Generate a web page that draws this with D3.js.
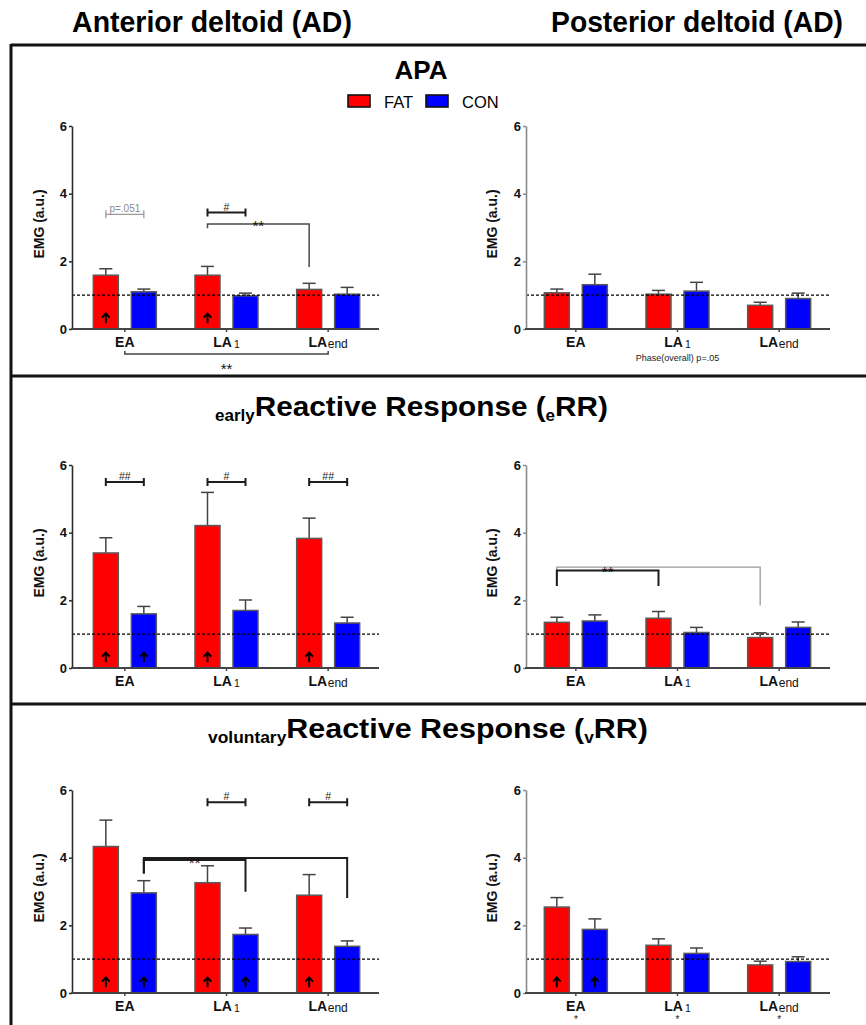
<!DOCTYPE html>
<html>
<head>
<meta charset="utf-8">
<script src="https://cdn.jsdelivr.net/npm/d3@7"></script>
<style>
  body { margin: 0; background: #fff; }
  svg { display: block; font-family: "Liberation Sans", Arial, Helvetica, sans-serif; }
</style>
</head>
<body>
<svg id="chart" width="866" height="1025"></svg>
<script>
// ---- categories and groups ----
const phases = ["EA", "LA1", "LAend"];
const groups = ["FAT", "CON"];
const groupColors = ["#ff0000", "#0000ff"];
const yTicks = [0, 2, 4, 6];
const referenceLevel = 1;

// ---- APA: anterior / posterior deltoid (mean, SEM) ----
const apaAD_FAT = [1.59, 1.59, 1.17];
const apaAD_FAT_sem = [0.19, 0.26, 0.18];
const apaAD_CON = [1.10, 0.98, 1.03];
const apaAD_CON_sem = [0.08, 0.08, 0.20];
const apaPD_FAT = [1.07, 1.03, 0.70];
const apaPD_FAT_sem = [0.11, 0.11, 0.09];
const apaPD_CON = [1.31, 1.12, 0.90];
const apaPD_CON_sem = [0.31, 0.26, 0.16];

// ---- early reactive response ----
const errAD_FAT = [3.40, 4.21, 3.83];
const errAD_FAT_sem = [0.45, 0.98, 0.60];
const errAD_CON = [1.60, 1.70, 1.33];
const errAD_CON_sem = [0.22, 0.31, 0.17];
const errPD_FAT = [1.35, 1.47, 0.90];
const errPD_FAT_sem = [0.15, 0.20, 0.14];
const errPD_CON = [1.39, 1.05, 1.20];
const errPD_CON_sem = [0.18, 0.15, 0.16];

// ---- voluntary reactive response ----
const vrrAD_FAT = [4.33, 3.26, 2.89];
const vrrAD_FAT_sem = [0.78, 0.50, 0.61];
const vrrAD_CON = [2.96, 1.73, 1.38];
const vrrAD_CON_sem = [0.36, 0.19, 0.16];
const vrrPD_FAT = [2.54, 1.41, 0.83];
const vrrPD_FAT_sem = [0.28, 0.19, 0.11];
const vrrPD_CON = [1.88, 1.17, 0.93];
const vrrPD_CON_sem = [0.31, 0.16, 0.14];

// ---- increase-over-baseline arrows, per phase [FAT, CON] ----
const apaAD_arrows = [[1, 0], [1, 0], [0, 0]];
const apaPD_arrows = [[0, 0], [0, 0], [0, 0]];
const errAD_arrows = [[1, 1], [1, 0], [1, 0]];
const errPD_arrows = [[0, 0], [0, 0], [0, 0]];
const vrrAD_arrows = [[1, 1], [1, 1], [1, 0]];
const vrrPD_arrows = [[1, 1], [0, 0], [0, 0]];

// ---- significance brackets (heights in EMG units) ----
const apaAD_brackets = [
  { from: ["EA", "FAT"], to: ["EA", "CON"], at: 3.39, cap: true, label: "p=.051", tone: "light" },
  { from: ["LA1", "FAT"], to: ["LA1", "CON"], at: 3.44, cap: true, label: "#", tone: "dark" },
  { from: ["LA1", "FAT"], to: ["LAend", "FAT"], at: 3.10, legFrom: 2.98, legTo: 1.83, label: "**", tone: "mid", labelAt: 3.12 }
];
const apaPD_brackets = [];
const errAD_brackets = [
  { from: ["EA", "FAT"], to: ["EA", "CON"], at: 5.50, cap: true, label: "##", tone: "dark" },
  { from: ["LA1", "FAT"], to: ["LA1", "CON"], at: 5.50, cap: true, label: "#", tone: "dark" },
  { from: ["LAend", "FAT"], to: ["LAend", "CON"], at: 5.50, cap: true, label: "##", tone: "dark" }
];
const errPD_brackets = [
  { from: ["EA", "FAT"], to: ["LAend", "FAT"], at: 2.98, legFrom: 2.42, legTo: 1.85, tone: "light" },
  { from: ["EA", "FAT"], to: ["LA1", "FAT"], at: 2.88, legFrom: 2.42, legTo: 2.42, label: "**", tone: "dark", labelAt: 2.93 }
];
const vrrAD_brackets = [
  { from: ["LA1", "FAT"], to: ["LA1", "CON"], at: 5.64, cap: true, label: "#", tone: "dark" },
  { from: ["LAend", "FAT"], to: ["LAend", "CON"], at: 5.64, cap: true, label: "#", tone: "dark" },
  { from: ["EA", "CON"], to: ["LAend", "CON"], at: 3.99, legFrom: 3.53, legTo: 2.81, tone: "dark" },
  { from: ["EA", "CON"], to: ["LA1", "CON"], at: 3.93, legFrom: 3.53, legTo: 2.99, label: "**", tone: "dark", labelAt: 3.92 }
];
const vrrPD_brackets = [];

// brackets drawn beneath the category axis
const apaAD_axisBrackets = [{ from: "EA", to: "LAend", label: "**" }];
// notes under the category labels
const apaPD_notes = [{ phase: "LA1", text: "Phase(overall) p=.05" }];
const vrrPD_notes = [{ phase: "EA", text: "*" }, { phase: "LA1", text: "*" }, { phase: "LAend", text: "*" }];

// ---- layout ----
const rows = [
  { y0: 329, y6: 126 },
  { y0: 668, y6: 465 },
  { y0: 993, y6: 790 }
];
const cols = [
  { axisX: 72, range: [74, 379], yAxisColor: "#2a2a2a", labelX: 39 },
  { axisX: 526, range: [525, 830], yAxisColor: "#8a8a8a", labelX: 492 }
];
const panels = [
  { row: 0, col: 0, fat: apaAD_FAT, fatSem: apaAD_FAT_sem, con: apaAD_CON, conSem: apaAD_CON_sem, arrows: apaAD_arrows, brackets: apaAD_brackets, axisBrackets: apaAD_axisBrackets, notes: [] },
  { row: 0, col: 1, fat: apaPD_FAT, fatSem: apaPD_FAT_sem, con: apaPD_CON, conSem: apaPD_CON_sem, arrows: apaPD_arrows, brackets: apaPD_brackets, axisBrackets: [], notes: apaPD_notes, noteSize: 9, noteDy: 32 },
  { row: 1, col: 0, fat: errAD_FAT, fatSem: errAD_FAT_sem, con: errAD_CON, conSem: errAD_CON_sem, arrows: errAD_arrows, brackets: errAD_brackets, axisBrackets: [], notes: [] },
  { row: 1, col: 1, fat: errPD_FAT, fatSem: errPD_FAT_sem, con: errPD_CON, conSem: errPD_CON_sem, arrows: errPD_arrows, brackets: errPD_brackets, axisBrackets: [], notes: [] },
  { row: 2, col: 0, fat: vrrAD_FAT, fatSem: vrrAD_FAT_sem, con: vrrAD_CON, conSem: vrrAD_CON_sem, arrows: vrrAD_arrows, brackets: vrrAD_brackets, axisBrackets: [], notes: [] },
  { row: 2, col: 1, fat: vrrPD_FAT, fatSem: vrrPD_FAT_sem, con: vrrPD_CON, conSem: vrrPD_CON_sem, arrows: vrrPD_arrows, brackets: vrrPD_brackets, axisBrackets: [], notes: vrrPD_notes, noteSize: 10, noteDy: 30 }
];

const tones = {
  light: { stroke: "#9a9a9a", width: 1.3, text: "#8a8a8a" },
  mid:   { stroke: "#4a4a4a", width: 1.5, text: "#333" },
  dark:  { stroke: "#1c1c1c", width: 2,   text: "#222" }
};

const svg = d3.select("#chart");

// squeeze a text element horizontally to a given width around its centre
function fitWidth(textSel, cx, baseline, width) {
  const bb = textSel.node().getBBox();
  const sx = width / bb.width;
  textSel.attr("text-anchor", "middle")
    .attr("transform", `translate(${cx},${baseline}) scale(${sx},1)`);
}

// ---- outer frame ----
const frame = svg.append("g").attr("stroke", "#111").attr("stroke-width", 3);
frame.append("line").attr("x1", 11).attr("x2", 866).attr("y1", 45).attr("y2", 45);
frame.append("line").attr("x1", 11).attr("x2", 11).attr("y1", 44).attr("y2", 1025);
frame.append("line").attr("x1", 10).attr("x2", 866).attr("y1", 376).attr("y2", 376);
frame.append("line").attr("x1", 10).attr("x2", 866).attr("y1", 704).attr("y2", 704);

// ---- column headings ----
const colTitles = [
  { text: "Anterior deltoid (AD)", cx: 212, width: 280 },
  { text: "Posterior deltoid (AD)", cx: 697, width: 292 }
];
colTitles.forEach(t => {
  const el = svg.append("text").attr("font-size", 29).attr("font-weight", "bold")
    .attr("fill", "#000").text(t.text);
  fitWidth(el, t.cx, 32, t.width);
});

// ---- section headings ----
svg.append("text").attr("x", 421).attr("y", 79).attr("text-anchor", "middle")
  .attr("font-size", 26).attr("font-weight", "bold").text("APA");

function sectionTitle(prefix, sub, cx, baseline, width) {
  const el = svg.append("text").attr("font-weight", "bold").attr("fill", "#000");
  el.append("tspan").attr("font-size", 16).attr("dy", 5).text(prefix);
  el.append("tspan").attr("font-size", 28).attr("dy", -5).text("Reactive Response (");
  el.append("tspan").attr("font-size", 16).attr("dy", 5).text(sub);
  el.append("tspan").attr("font-size", 28).attr("dy", -5).text("RR)");
  fitWidth(el, cx, baseline, width);
}
sectionTitle("early", "e", 411.5, 416, 393);
sectionTitle("voluntary", "v", 428, 738, 440);

// ---- legend ----
const legend = svg.append("g");
const legendItems = [
  { x: 348, tx: 384 },
  { x: 426, tx: 462 }
];
groups.forEach((gname, i) => {
  legend.append("rect").attr("x", legendItems[i].x).attr("y", 95).attr("width", 22).attr("height", 12)
    .attr("fill", groupColors[i]).attr("stroke", "#111").attr("stroke-width", 1.6);
  legend.append("text").attr("x", legendItems[i].tx).attr("y", 107.5).attr("font-size", 16.5)
    .text(gname);
});

// ---- panels ----
const inner = d3.scaleBand().domain(groups).range([-31.5, 31.5]).paddingInner(0.342);

panels.forEach(p => {
  const row = rows[p.row], col = cols[p.col];
  const g = svg.append("g");
  const x = d3.scaleBand().domain(phases).range(col.range);
  const y = d3.scaleLinear().domain([0, 6]).range([row.y0, row.y6]);
  const cx = ph => x(ph) + x.bandwidth() / 2;
  const barCx = (ph, grp) => cx(ph) + inner(grp) + inner.bandwidth() / 2;

  const rowsData = [];
  phases.forEach((ph, i) => {
    rowsData.push({ phase: ph, group: "FAT", v: p.fat[i], sem: p.fatSem[i], arrow: p.arrows[i][0], color: groupColors[0] });
    rowsData.push({ phase: ph, group: "CON", v: p.con[i], sem: p.conSem[i], arrow: p.arrows[i][1], color: groupColors[1] });
  });

  // error bars (upper half only)
  const eb = g.append("g").attr("stroke", "#444").attr("stroke-width", 1.5);
  rowsData.forEach(d => {
    const xc = barCx(d.phase, d.group);
    eb.append("line").attr("x1", xc).attr("x2", xc).attr("y1", y(d.v)).attr("y2", y(d.v + d.sem));
    eb.append("line").attr("x1", xc - 6.5).attr("x2", xc + 6.5).attr("y1", y(d.v + d.sem)).attr("y2", y(d.v + d.sem));
  });

  // bars
  g.append("g").selectAll("rect").data(rowsData).join("rect")
    .attr("x", d => cx(d.phase) + inner(d.group))
    .attr("width", inner.bandwidth())
    .attr("y", d => y(d.v))
    .attr("height", d => y(0) - y(d.v))
    .attr("fill", d => d.color)
    .attr("stroke", "#5a5a5a").attr("stroke-width", 1.5);

  // arrows marking increase from baseline
  g.append("g").selectAll("path").data(rowsData.filter(d => d.arrow)).join("path")
    .attr("transform", d => `translate(${barCx(d.phase, d.group)},${y(0.32)})`)
    .attr("d", "M0,5V-4.5M-3.8,-0.6L0,-4.6L3.8,-0.6")
    .attr("fill", "none").attr("stroke", "#000").attr("stroke-width", 2);

  // reference level
  g.append("line").attr("x1", col.axisX).attr("x2", col.range[1])
    .attr("y1", y(referenceLevel)).attr("y2", y(referenceLevel))
    .attr("stroke", "#000").attr("stroke-width", 1.2).attr("stroke-dasharray", "3,2");

  // y axis
  const ya = g.append("g").attr("transform", `translate(${col.axisX},0)`)
    .call(d3.axisLeft(y).tickValues(yTicks).tickSize(3).tickPadding(2).tickSizeOuter(0).tickFormat(d3.format("d")));
  ya.select(".domain").attr("stroke", col.yAxisColor).attr("stroke-width", 1.6);
  ya.selectAll(".tick line").attr("stroke", col.yAxisColor).attr("stroke-width", 1.5);
  ya.selectAll(".tick text").attr("font-size", 13).attr("font-weight", "bold").attr("fill", "#111")
    .attr("font-family", "Liberation Sans, Arial, sans-serif");

  // x axis
  const xa = g.append("g").attr("transform", `translate(0,${row.y0})`)
    .call(d3.axisBottom(x).tickSize(3).tickSizeOuter(0).tickFormat(""));
  xa.select(".domain").remove();
  xa.selectAll(".tick line").attr("stroke", "#444").attr("stroke-width", 1.5);
  g.append("line").attr("x1", col.axisX - 1).attr("x2", col.range[1]).attr("y1", row.y0).attr("y2", row.y0)
    .attr("stroke", "#444").attr("stroke-width", 1.8);

  // category labels: "LA" with a small regular-weight suffix
  phases.forEach(ph => {
    const t = g.append("text").attr("x", cx(ph)).attr("y", row.y0 + 17.5).attr("text-anchor", "middle")
      .attr("fill", "#111");
    t.append("tspan").attr("font-size", 14).attr("font-weight", "bold").text(ph.slice(0, 2));
    if (ph.length > 2) {
      t.append("tspan").attr("font-size", ph === "LA1" ? 10.5 : 12).attr("dx", ph === "LA1" ? 2 : 0.5)
        .attr("dy", 1).text(ph.slice(2));
    }
  });

  // axis title
  g.append("text")
    .attr("transform", `translate(${col.labelX + 5},${(row.y0 + row.y6) / 2 - 3.5}) rotate(-90)`)
    .attr("text-anchor", "middle").attr("font-size", 14).attr("font-weight", "bold").attr("fill", "#111")
    .text("EMG (a.u.)");

  // significance brackets
  p.brackets.forEach(b => {
    const tone = tones[b.tone];
    const xa1 = barCx(b.from[0], b.from[1]);
    const xb1 = barCx(b.to[0], b.to[1]);
    const yy = y(b.at);
    const bg = g.append("g").attr("stroke", tone.stroke).attr("stroke-width", tone.width).attr("fill", "none");
    if (b.cap) {
      bg.append("path").attr("d", `M${xa1},${yy - 4}V${yy + 4}M${xa1},${yy}H${xb1}M${xb1},${yy - 4}V${yy + 4}`);
      g.append("text").attr("x", (xa1 + xb1) / 2).attr("y", yy - 2).attr("text-anchor", "middle")
        .attr("font-size", b.label === "p=.051" ? 10 : 10.5).attr("fill", tone.text).text(b.label);
    } else {
      bg.append("path").attr("d", `M${xa1},${y(b.legFrom)}V${yy}H${xb1}V${y(b.legTo)}`);
      if (b.label) {
        g.append("text").attr("x", (xa1 + xb1) / 2).attr("y", y(b.labelAt) + 8).attr("text-anchor", "middle")
          .attr("font-size", 15).attr("fill", "#111").text(b.label);
      }
    }
  });

  // brackets below the category axis
  p.axisBrackets.forEach(b => {
    const xa1 = cx(b.from), xb1 = cx(b.to), yy = row.y0 + 25;
    g.append("path").attr("d", `M${xa1},${yy - 3}V${yy}H${xb1}V${yy - 3}`)
      .attr("fill", "none").attr("stroke", "#444").attr("stroke-width", 1.5);
    g.append("text").attr("x", (xa1 + xb1) / 2).attr("y", yy + 20).attr("text-anchor", "middle")
      .attr("font-size", 15).attr("fill", "#111").text(b.label);
  });

  // notes under category labels
  p.notes.forEach(n => {
    g.append("text").attr("x", cx(n.phase)).attr("y", row.y0 + p.noteDy).attr("text-anchor", "middle")
      .attr("font-size", p.noteSize).attr("fill", "#222").text(n.text);
  });
});
</script>
</body>
</html>
